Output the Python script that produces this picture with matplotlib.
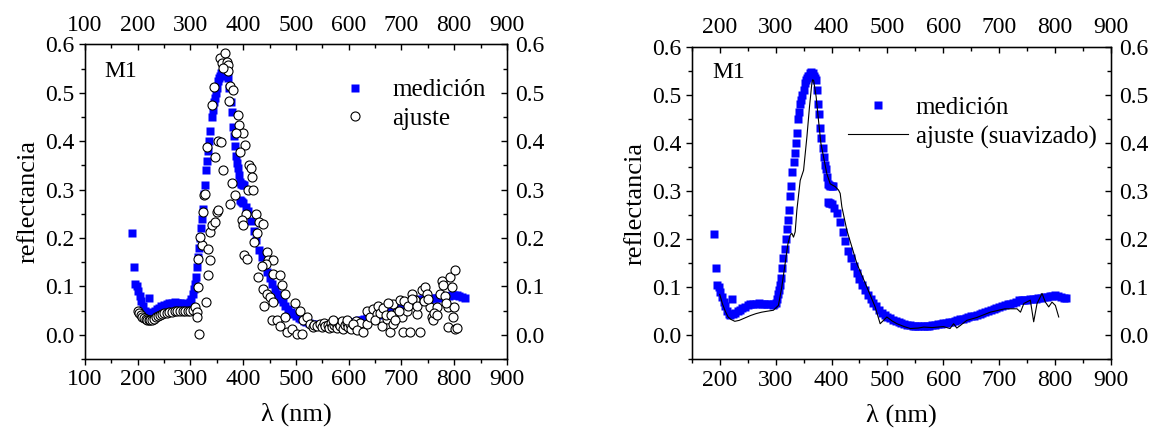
import numpy as np
import matplotlib
matplotlib.use("Agg")
import matplotlib.pyplot as plt
from matplotlib.ticker import MultipleLocator

plt.rcParams['font.family'] = ['Liberation Serif', 'DejaVu Serif']
plt.rcParams['mathtext.fontset'] = 'stix'

# measured reflectance (both panels)
medLam = [190, 193, 195, 198, 201, 204, 207, 210, 213, 216, 219, 222, 224, 228, 232, 236, 240, 245,
          250, 255, 260, 265, 270, 275, 280, 285, 290, 295, 298, 300, 302, 304, 306, 308, 310, 312,
          314, 316, 318, 320, 322, 324, 326, 328, 330, 332, 334, 336, 338, 340, 342, 344, 346, 348,
          350, 352, 354, 356, 358, 360, 362, 364, 366, 368, 370, 372, 374, 376, 378, 380, 382, 384,
          386, 388, 390, 392, 394, 396, 398, 400, 402, 394, 396, 398, 400, 405, 410, 415, 420, 425,
          430, 435, 440, 445, 450, 455, 460, 465, 470, 475, 480, 485, 490, 495, 500, 505, 510, 515,
          520, 525, 530, 535, 540, 545, 550, 555, 560, 565, 570, 575, 580, 585, 590, 595, 600, 605,
          610, 615, 620, 625, 630, 635, 640, 645, 650, 655, 660, 665, 670, 675, 680, 685, 690, 695,
          700, 705, 710, 715, 720, 725, 730, 735, 740, 745, 750, 755, 760, 765, 770, 775, 780, 785,
          790, 795, 800, 805, 810, 815, 820]
medR = [0.210, 0.140, 0.105, 0.100, 0.090, 0.080, 0.070, 0.060, 0.050, 0.045, 0.042, 0.076, 0.045,
        0.047, 0.050, 0.053, 0.056, 0.059, 0.062, 0.064, 0.065, 0.066, 0.067, 0.066, 0.066, 0.065,
        0.064, 0.063, 0.064, 0.068, 0.075, 0.085, 0.095, 0.105, 0.120, 0.140, 0.160, 0.180, 0.200,
        0.220, 0.240, 0.260, 0.290, 0.310, 0.340, 0.360, 0.380, 0.400, 0.420, 0.450, 0.465, 0.480,
        0.490, 0.500, 0.510, 0.525, 0.530, 0.535, 0.540, 0.540, 0.545, 0.548, 0.545, 0.540, 0.535,
        0.530, 0.510, 0.480, 0.460, 0.430, 0.410, 0.390, 0.370, 0.355, 0.345, 0.330, 0.315, 0.312,
        0.311, 0.310, 0.310, 0.278, 0.276, 0.275, 0.272, 0.265, 0.255, 0.235, 0.215, 0.195, 0.175,
        0.160, 0.145, 0.130, 0.117, 0.105, 0.094, 0.084, 0.075, 0.067, 0.060, 0.053, 0.047, 0.042,
        0.038, 0.035, 0.032, 0.029, 0.027, 0.025, 0.023, 0.022, 0.021, 0.020, 0.020, 0.019, 0.019,
        0.019, 0.020, 0.020, 0.021, 0.022, 0.023, 0.024, 0.025, 0.026, 0.027, 0.028, 0.030, 0.031,
        0.033, 0.034, 0.036, 0.038, 0.040, 0.041, 0.043, 0.045, 0.046, 0.048, 0.050, 0.052, 0.054,
        0.056, 0.058, 0.060, 0.062, 0.064, 0.066, 0.068, 0.070, 0.074, 0.073, 0.074, 0.074, 0.075,
        0.076, 0.076, 0.077, 0.078, 0.079, 0.080, 0.081, 0.082, 0.083, 0.082, 0.080, 0.078, 0.077]

# fit (left panel, open circles)
ajLam = [200, 203, 206, 209, 212, 215, 218, 221, 224, 227, 230, 234, 238, 242, 246, 250, 255, 260,
         265, 270, 275, 280, 285, 290, 295, 300, 304, 308.5, 311.7, 311.7, 316.1, 313.6, 314.8, 321.1,
         318, 329.4, 333.8, 337, 333.8, 337, 340.1, 346.4, 350.8, 352.7, 324.3, 325.5, 327.5, 330.6,
         346.4, 352.7, 357.1, 362.2, 340.1, 344.5, 355.9, 359, 365.4, 368.5, 371.7, 371.7, 362.2,
         374.8, 381.2, 373.6, 390.7, 392.5, 400.1, 386.2, 403.3, 393.8, 378, 384.3, 374.8, 411.5,
         414, 415.9, 409.6, 419.1, 405.2, 424.1, 430.4, 436.8, 426.7, 397, 398.9, 420.3, 401.4,
         406.4, 444.4, 447.5, 455.7, 443.1, 434.9, 428.6, 457, 469.6, 438, 444.4, 450.7, 455.7,
         439.3, 472.8, 479.1, 453.8, 463.3, 469.6, 479.1, 482.3, 491.7, 498.1, 501.2, 507.5, 510.7,
         513.9, 520.2, 526.5, 532.8, 535, 540, 545, 550, 553, 556, 560, 563, 566, 569, 572, 575,
         578, 581, 584, 587, 590, 593, 596, 599, 602, 605, 610, 614, 618, 622, 570.7, 596, 608.7,
         615, 627.6, 634, 634, 640.2, 646.6, 652.9, 662.4, 671.8, 678.2, 684.5, 684.5, 690.8, 697.1,
         700.3, 703.5, 709.8, 716.1, 719.3, 725.6, 728.8, 735.1, 738.2, 744.5, 747.7, 754, 757.2,
         760.3, 766.6, 773, 776.1, 779.3, 782.4, 788.7, 788.7, 791.9, 795, 798.2, 799.5, 801.4,
         801.4, 650, 655, 660, 665, 670, 675, 680, 688, 695, 705, 712, 720, 730, 742, 750, 762,
         768, 785, 805]
ajR = [0.050, 0.045, 0.040, 0.037, 0.034, 0.032, 0.031, 0.030, 0.030, 0.031, 0.033, 0.036, 0.039,
       0.041, 0.043, 0.045, 0.046, 0.047, 0.048, 0.049, 0.050, 0.050, 0.050, 0.050, 0.049, 0.050,
       0.052, 0.057, 0.047, 0.037, 0.002, 0.099, 0.157, 0.185, 0.202, 0.068, 0.123, 0.154, 0.178,
       0.213, 0.226, 0.233, 0.254, 0.257, 0.254, 0.288, 0.290, 0.387, 0.368, 0.400, 0.399, 0.340,
       0.475, 0.511, 0.571, 0.561, 0.582, 0.564, 0.558, 0.544, 0.551, 0.513, 0.506, 0.482, 0.454,
       0.433, 0.417, 0.416, 0.392, 0.378, 0.314, 0.288, 0.271, 0.351, 0.344, 0.326, 0.299, 0.299,
       0.250, 0.250, 0.233, 0.228, 0.210, 0.237, 0.226, 0.192, 0.164, 0.157, 0.171, 0.154, 0.154,
       0.147, 0.143, 0.119, 0.126, 0.123, 0.095, 0.085, 0.078, 0.068, 0.059, 0.102, 0.085, 0.030,
       0.030, 0.019, 0.037, 0.006, 0.012, 0.066, 0.002, 0.050, 0.002, 0.030, 0.037, 0.023, 0.016,
       0.020, 0.018, 0.022, 0.016, 0.025, 0.018, 0.021, 0.014, 0.024, 0.017, 0.020, 0.026, 0.015,
       0.022, 0.018, 0.028, 0.012, 0.020, 0.025, 0.016, 0.022, 0.013, 0.020, 0.028, 0.015, 0.025,
       0.030, 0.031, 0.023, 0.009, 0.006, 0.023, 0.050, 0.037, 0.054, 0.043, 0.019, 0.033, 0.006,
       0.064, 0.023, 0.047, 0.071, 0.037, 0.006, 0.050, 0.006, 0.085, 0.071, 0.043, 0.006, 0.092,
       0.099, 0.085, 0.057, 0.037, 0.030, 0.057, 0.085, 0.112, 0.102, 0.081, 0.057, 0.016, 0.119,
       0.099, 0.037, 0.057, 0.133, 0.013, 0.030, 0.060, 0.045, 0.055, 0.040, 0.065, 0.040, 0.030,
       0.050, 0.070, 0.060, 0.075, 0.060, 0.070, 0.075, 0.045, 0.040, 0.065, 0.015]

# smoothed fit (right panel, line)
suLam = [200, 205, 210, 215, 220, 227, 235, 245, 255, 265, 275, 285, 296, 305, 311, 317, 322, 326,
         329, 332, 335, 338, 344, 350, 356, 360.6, 364.8, 366, 368, 372.5, 376.7, 381, 385.7, 391.6,
         397.6, 406.6, 412.5, 415.5, 418.5, 427.5, 445.4, 463.3, 478, 487, 493, 499, 508, 517, 530,
         541, 555, 565, 580, 600, 612, 618.4, 624, 630, 642, 660, 684, 710, 731.8, 738, 744, 755.6,
         761.6, 767.6, 776.5, 782.5, 788.5, 794.4, 800.4, 806.4]
suR = [0.085, 0.065, 0.050, 0.038, 0.033, 0.029, 0.031, 0.036, 0.041, 0.045, 0.048, 0.050, 0.052,
       0.062, 0.100, 0.149, 0.190, 0.208, 0.212, 0.204, 0.215, 0.260, 0.322, 0.343, 0.413, 0.475,
       0.524, 0.531, 0.530, 0.496, 0.447, 0.399, 0.371, 0.336, 0.315, 0.309, 0.302, 0.295, 0.267,
       0.218, 0.149, 0.100, 0.059, 0.024, 0.031, 0.038, 0.030, 0.024, 0.018, 0.014, 0.015, 0.017,
       0.016, 0.018, 0.014, 0.024, 0.015, 0.020, 0.031, 0.037, 0.048, 0.055, 0.055, 0.048, 0.066,
       0.073, 0.028, 0.066, 0.087, 0.069, 0.059, 0.069, 0.062, 0.038]

FS = 17      # tick labels
FSL = 19     # axis titles
FSG = 18     # legend


def style_axes(ax, xlo, xticks):
    ax.set_xlim(xlo, 900)
    ax.set_ylim(-0.05, 0.6)
    ax.set_xticks(xticks)
    ax.set_yticks([0.0, 0.1, 0.2, 0.3, 0.4, 0.5, 0.6])
    ax.set_yticklabels(['0.0', '0.1', '0.2', '0.3', '0.4', '0.5', '0.6'])
    ax.xaxis.set_minor_locator(MultipleLocator(50))
    ax.yaxis.set_minor_locator(MultipleLocator(0.05))
    ax.tick_params(which='both', direction='out', labelsize=FS, width=1.0, top=False, right=False)
    ax.tick_params(which='major', length=4)
    ax.tick_params(which='minor', length=3)
    for s in ax.spines.values():
        s.set_linewidth(1.0)
    ax.set_xlabel('λ (nm)', fontsize=FSL, labelpad=9)
    ax.set_ylabel('reflectancia', fontsize=FSL, labelpad=4)

    axr = ax.twinx()
    axr.set_ylim(ax.get_ylim())
    axr.set_yticks(ax.get_yticks())
    axr.set_yticklabels(['0.0', '0.1', '0.2', '0.3', '0.4', '0.5', '0.6'])
    axr.yaxis.set_minor_locator(MultipleLocator(0.05))
    axr.tick_params(which='both', direction='in', labelsize=FS, width=1.0, pad=6)
    axr.tick_params(which='major', length=4)
    axr.tick_params(which='minor', length=3)

    axt = ax.twiny()
    axt.set_xlim(ax.get_xlim())
    axt.set_xticks(xticks)
    axt.xaxis.set_minor_locator(MultipleLocator(50))
    axt.tick_params(which='both', direction='in', labelsize=FS, width=1.0, pad=6)
    axt.tick_params(which='major', length=4)
    axt.tick_params(which='minor', length=3)
    return axr, axt


fig = plt.figure(figsize=(11.51, 4.30), dpi=100)

# left panel
ax1 = fig.add_axes([0.0738, 0.165, 0.3666, 0.732])
ax1.plot(medLam, medR, 's', color='#0000ff', ms=6, mec='none', label='medición', zorder=2)
ax1.plot(ajLam, ajR, 'o', mfc='white', mec='black', mew=0.8, ms=6.5, label='ajuste', zorder=3)
style_axes(ax1, 100, [100, 200, 300, 400, 500, 600, 700, 800, 900])
ax1.text(0.047, 0.912, 'M1', transform=ax1.transAxes, fontsize=FS, va='center', ha='left')
ax1.legend(loc='center left', bbox_to_anchor=(0.569, 0.809), frameon=False, fontsize=FSG,
           handlelength=2.4, handletextpad=0.3, borderpad=0, borderaxespad=0, labelspacing=0.25)

# right panel
ax2 = fig.add_axes([0.601, 0.1644, 0.3643, 0.727])
ax2.plot(medLam, medR, 's', color='#0000ff', ms=6, mec='none', label='medición', zorder=2)
ax2.plot(suLam, suR, '-', color='black', lw=0.8, label='ajuste (suavizado)', zorder=3)
style_axes(ax2, 150, [200, 300, 400, 500, 600, 700, 800, 900])
ax2.text(0.048, 0.916, 'M1', transform=ax2.transAxes, fontsize=FS, va='center', ha='left')
ax2.legend(loc='center left', bbox_to_anchor=(0.373, 0.757), frameon=False, fontsize=FSG,
           handlelength=2.4, handletextpad=0.3, borderpad=0, borderaxespad=0, labelspacing=0.25)

fig.savefig('out.png', dpi=100)
